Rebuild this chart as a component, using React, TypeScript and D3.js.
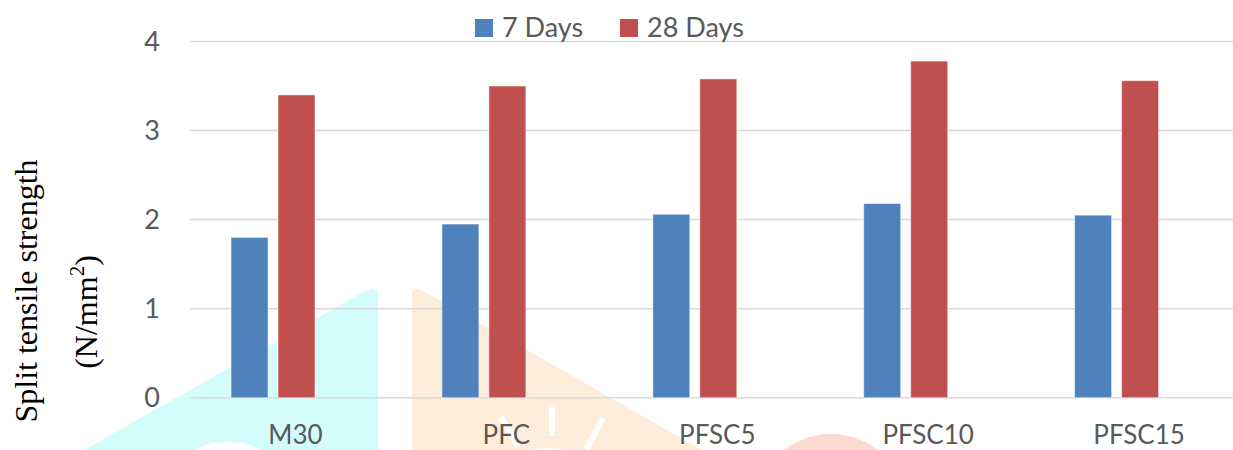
import { useEffect, useRef } from "react"
import * as d3 from "d3"

// chart data
const categories = ["M30", "PFC", "PFSC5", "PFSC10", "PFSC15"]
const seriesNames = ["7 Days", "28 Days"]
const days7 = [1.8, 1.95, 2.06, 2.18, 2.05]
const days28 = [3.4, 3.5, 3.58, 3.78, 3.56]
const yTicks = [0, 1, 2, 3, 4]
const colors = ["#4f81bd", "#c0504d"]

const W = 1233
const H = 450

const App = () => {
  const svgRef = useRef<SVGSVGElement>(null)

  useEffect(() => {
    if (!svgRef.current) return
    const svg = d3.select(svgRef.current)
    svg.selectAll("*").remove()

    const left = 190
    const bandW = 210.9

    const x0 = d3
      .scaleBand<string>()
      .domain(categories)
      .range([left, left + bandW * categories.length])
    // Excel keeps a third, empty slot in each group
    const x1 = d3
      .scaleBand<string>()
      .domain([...seriesNames, "empty"])
      .range([41, 172])
      .paddingInner(10 / 47)
    const y = d3.scaleLinear().domain([0, 4]).range([397.7, 41.5])

    // faint watermark in the background
    const wm = svg.append("g")
    wm.append("polygon")
      .attr("points", "85,450 100,441 365,291 372,289 378,292 378,450")
      .attr("fill", "#d3fcfc")
    wm.append("ellipse")
      .attr("cx", 228)
      .attr("cy", 452)
      .attr("rx", 32)
      .attr("ry", 10)
      .attr("fill", "#ffffff")
    wm.append("polygon")
      .attr("points", "412,450 412,292 418,289 425,292 702,450")
      .attr("fill", "#feedda")
    wm.append("g")
      .attr("stroke", "#ffffff")
      .attr("stroke-width", 6)
      .selectAll("line")
      .data([
        [552, 405, 552, 436],
        [501, 417, 518, 446],
        [603, 418, 586, 450],
      ])
      .join("line")
      .attr("x1", (d) => d[0])
      .attr("y1", (d) => d[1])
      .attr("x2", (d) => d[2])
      .attr("y2", (d) => d[3])
    wm.append("ellipse")
      .attr("cx", 548)
      .attr("cy", 458)
      .attr("rx", 30)
      .attr("ry", 10)
      .attr("fill", "#ffffff")
    wm.append("circle")
      .attr("cx", 831)
      .attr("cy", 512)
      .attr("r", 78)
      .attr("fill", "#fdd9d1")

    // gridlines
    svg
      .append("g")
      .selectAll("line")
      .data(yTicks)
      .join("line")
      .attr("x1", left)
      .attr("x2", W)
      .attr("y1", (d) => y(d))
      .attr("y2", (d) => y(d))
      .attr("stroke", "#d9d9d9")
      .attr("stroke-width", 1.5)

    // y tick labels
    svg
      .append("g")
      .selectAll("text")
      .data(yTicks)
      .join("text")
      .attr("x", 160)
      .attr("y", (d) => y(d))
      .attr("dy", "0.36em")
      .attr("text-anchor", "end")
      .attr("font-family", "Lato, sans-serif")
      .attr("font-size", 27)
      .attr("fill", "#595959")
      .text((d) => d)

    // bars
    const groups = svg
      .append("g")
      .selectAll("g")
      .data(categories)
      .join("g")
      .attr("transform", (d) => `translate(${x0(d)},0)`)

    groups
      .selectAll("rect")
      .data((_, i) => [
        { key: seriesNames[0], value: days7[i], c: colors[0] },
        { key: seriesNames[1], value: days28[i], c: colors[1] },
      ])
      .join("rect")
      .attr("x", (d) => x1(d.key)!)
      .attr("width", x1.bandwidth())
      .attr("y", (d) => y(d.value))
      .attr("height", (d) => y(0) - y(d.value))
      .attr("fill", (d) => d.c)
      .attr("stroke", "#ffffff")
      .attr("stroke-opacity", 0.5)
      .attr("stroke-width", 1)

    // category labels
    svg
      .append("g")
      .selectAll("text")
      .data(categories)
      .join("text")
      .attr("x", (d) => x0(d)! + x0.bandwidth() / 2)
      .attr("y", 444)
      .attr("text-anchor", "middle")
      .attr("font-family", "Lato, sans-serif")
      .attr("font-size", 26)
      .attr("fill", "#595959")
      .text((d) => d)

    // legend
    const legendX = [475, 620]
    const legend = svg
      .append("g")
      .selectAll("g")
      .data(seriesNames)
      .join("g")
      .attr("transform", (_, i) => `translate(${legendX[i]},19)`)
    legend
      .append("rect")
      .attr("width", 18)
      .attr("height", 18)
      .attr("fill", (_, i) => colors[i])
    legend
      .append("text")
      .attr("x", 27)
      .attr("y", 18)
      .attr("font-family", "Lato, sans-serif")
      .attr("font-size", 27)
      .attr("fill", "#595959")
      .text((d) => d)

    // y axis title
    svg
      .append("text")
      .attr("transform", "translate(37,291) rotate(-90)")
      .attr("text-anchor", "middle")
      .attr("font-family", "'Liberation Serif', 'Times New Roman', serif")
      .attr("font-size", 32)
      .attr("fill", "#000")
      .text("Split tensile strength")

    const unit = svg
      .append("text")
      .attr("transform", "translate(97,312) rotate(-90)")
      .attr("text-anchor", "middle")
      .attr("font-family", "'Liberation Serif', 'Times New Roman', serif")
      .attr("font-size", 32)
      .attr("fill", "#000")
    unit.append("tspan").text("(N/mm")
    unit.append("tspan").attr("font-size", 21).attr("dy", -13).text("2")
    unit.append("tspan").attr("dy", 13).text(")")
  }, [])

  return (
    <svg
      ref={svgRef}
      width={W}
      height={H}
      style={{ position: "absolute", left: 0, top: 0, background: "#fff" }}
    />
  )
}

export default App
